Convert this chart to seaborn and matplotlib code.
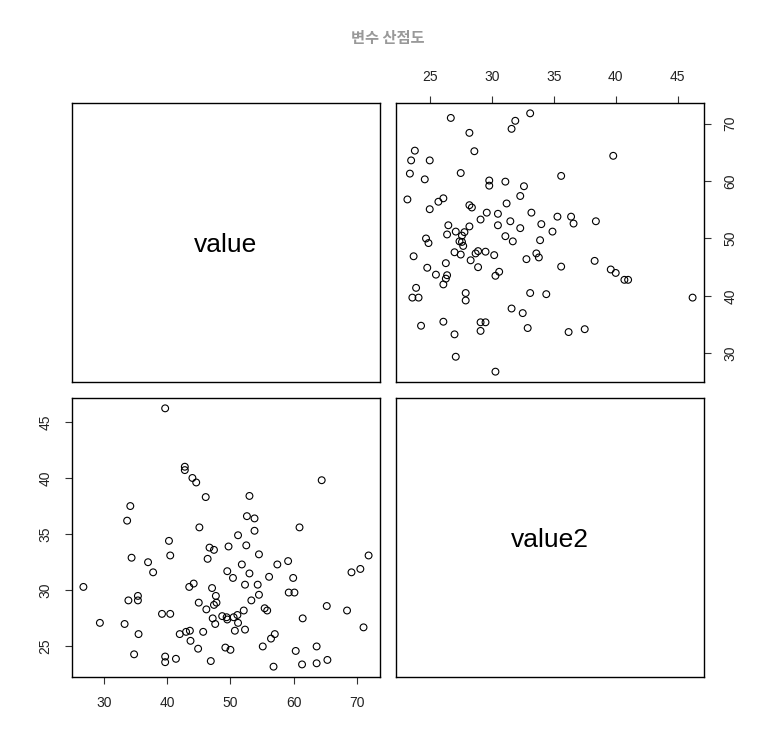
import matplotlib.pyplot as plt
import pandas as pd
import seaborn as sns

sns.set_theme(style="white")
plt.rcParams["font.family"] = ["Liberation Sans", "Noto Sans CJK KR", "DejaVu Sans"]

# values (x = value, y = value2)
value = [39.7, 42.8, 42.8, 44.0, 44.6, 46.1, 34.2, 33.7, 45.1, 40.3,
         46.7, 47.4, 34.4, 40.5, 37.0, 46.4,
         64.4, 53.0, 52.6, 53.8, 53.8, 60.9, 51.2, 49.7, 52.5, 54.5,
         59.1, 71.8, 51.8, 57.4,
         49.5, 50.4, 53.0, 56.1, 59.9, 70.5, 69.1, 52.3, 54.3, 47.1,
         47.7, 47.4, 47.8, 53.3, 54.5, 59.2, 60.1, 65.2, 68.4, 55.4,
         55.8, 52.1, 47.2, 47.6, 48.7, 49.4, 49.5, 50.5, 51.1, 51.2,
         50.7, 52.3, 61.4, 71.0, 56.4, 57.0, 55.1, 49.2, 50.0, 60.3,
         63.6, 56.8, 61.3, 63.6, 65.3, 46.9,
         37.8, 26.8, 43.5, 44.2, 33.9, 35.4, 35.4, 45.0, 46.2, 29.4,
         33.3, 39.2, 40.5, 35.5, 42.0, 43.0, 43.6, 43.7, 45.7, 44.9,
         34.8, 39.7, 39.7, 41.4]
value2 = [46.2, 41.0, 40.7, 40.0, 39.6, 38.3, 37.5, 36.2, 35.6, 34.4,
          33.8, 33.6, 32.9, 33.1, 32.5, 32.8,
          39.8, 38.4, 36.6, 36.4, 35.3, 35.6, 34.9, 33.9, 34.0, 33.2,
          32.6, 33.1, 32.3, 32.3,
          31.7, 31.1, 31.5, 31.2, 31.1, 31.9, 31.6, 30.5, 30.5, 30.2,
          29.5, 28.7, 28.9, 29.1, 29.6, 29.8, 29.8, 28.6, 28.2, 28.4,
          28.2, 28.2, 27.5, 27.0, 27.7, 27.6, 27.4, 27.6, 27.8, 27.1,
          26.4, 26.5, 27.5, 26.7, 25.7, 26.1, 25.0, 24.9, 24.7, 24.6,
          25.0, 23.2, 23.4, 23.5, 23.8, 23.7,
          31.6, 30.3, 30.3, 30.6, 29.1, 29.5, 29.1, 28.9, 28.3, 27.1,
          27.0, 27.9, 27.9, 26.1, 26.1, 26.3, 26.4, 25.5, 26.3, 24.8,
          24.3, 24.1, 23.6, 23.9]
names = ["value", "value2"]
title = "변수 산점도"

df = pd.DataFrame({"value": value, "value2": value2})


def padded(col):
    lo, hi = df[col].min(), df[col].max()
    pad = (hi - lo) * 0.04
    return lo - pad, hi + pad


fig = plt.figure(figsize=(7.76, 7.49), dpi=100)
W, H = 776, 749
lefts = [72, 396]
tops = [103, 398]
pw, ph = 308, 279

axes = {}
for i in range(2):
    for j in range(2):
        ax = fig.add_axes([lefts[j] / W, 1 - (tops[i] + ph) / H, pw / W, ph / H])
        axes[(i, j)] = ax
        for s in ax.spines.values():
            s.set_color("black")
            s.set_linewidth(1.0)
        ax.set_facecolor("white")
        ax.grid(False)

for i in range(2):
    for j in range(2):
        ax = axes[(i, j)]
        if i == j:
            ax.set_xticks([])
            ax.set_yticks([])
            ax.text(0.5, 0.5, names[i], transform=ax.transAxes, ha="center",
                    va="center_baseline", fontsize=19, color="black")
            continue
        xcol, ycol = names[j], names[i]
        sns.scatterplot(data=df, x=xcol, y=ycol, ax=ax, marker="o",
                        facecolor="none", edgecolor="black", linewidth=0.8,
                        s=24, legend=False)
        ax.set_xlim(padded(xcol))
        ax.set_ylim(padded(ycol))
        ax.set_xlabel("")
        ax.set_ylabel("")
        ax.tick_params(length=5, width=0.8, color="#333333", labelsize=10,
                       pad=9, labelcolor="#222222")
        if i == 0:
            ax.set_xticks([25, 30, 35, 40, 45])
            ax.set_yticks([30, 40, 50, 60, 70])
            ax.tick_params(bottom=False, labelbottom=False, top=True, labeltop=True,
                           left=False, labelleft=False, right=True, labelright=True)
        else:
            ax.set_xticks([30, 40, 50, 60, 70])
            ax.set_yticks([25, 30, 35, 40, 45])
            ax.tick_params(bottom=True, labelbottom=True, left=True, labelleft=True)
        for t in ax.get_yticklabels():
            t.set_rotation(90)
            t.set_va("center")

fig.text(0.5, 1 - 38 / H, title, ha="center", va="center", fontsize=11,
         fontweight="bold", color="#999999",
         family=["Noto Sans CJK KR", "DejaVu Sans"])

fig.savefig("out.png", dpi=100)
